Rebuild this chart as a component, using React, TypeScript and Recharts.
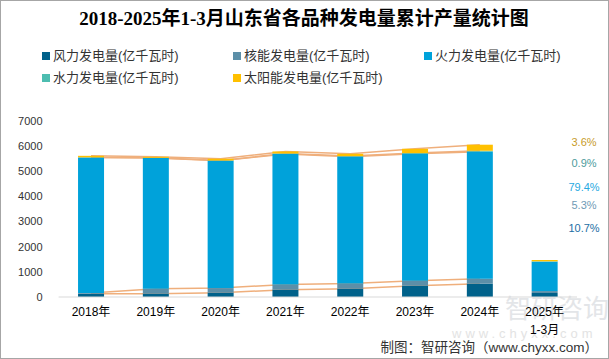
import { Bar, ComposedChart, Line, XAxis, YAxis } from "recharts";

const categories = ["2018年", "2019年", "2020年", "2021年", "2022年", "2023年", "2024年", "2025年1-3月"];
const wind = [130, 130, 170, 290, 330, 450, 530, 158];
const nuclear = [30, 200, 185, 210, 210, 200, 200, 78];
const thermal = [5385, 5198, 5060, 5189, 5041, 5045, 5047, 1170];
const hydro = [10, 10, 15, 20, 25, 30, 40, 13];
const solar = [60, 40, 70, 80, 90, 170, 240, 53];
const yTicks = [0, 1000, 2000, 3000, 4000, 5000, 6000, 7000];

const seriesNames = [
  "风力发电量(亿千瓦时)",
  "核能发电量(亿千瓦时)",
  "火力发电量(亿千瓦时)",
  "水力发电量(亿千瓦时)",
  "太阳能发电量(亿千瓦时)",
];
const seriesKeys = ["wind", "nuclear", "thermal", "hydro", "solar"];
const colors = ["#00618A", "#5C8FA8", "#00A2DA", "#4DBDB0", "#FFC000"];

// shares of the last period, shown at the right edge
const shareLabels = ["3.6%", "0.9%", "79.4%", "5.3%", "10.7%"];
const shareColors = ["#C89B2A", "#4D9C9C", "#27A9E1", "#6F9AB5", "#1C6EA4"];
const shareY = [142, 163, 187, 205, 228];

const SANS = '"Liberation Sans", "Noto Sans CJK SC", sans-serif';

// table for recharts, plus the cumulative tops used for the series lines
const data = categories.map((name, i) => {
  const c1 = wind[i];
  const c2 = c1 + nuclear[i];
  const c3 = c2 + thermal[i];
  const c4 = c3 + hydro[i];
  const c5 = c4 + solar[i];
  const last = i === categories.length - 1;
  return {
    name,
    wind: wind[i],
    nuclear: nuclear[i],
    thermal: thermal[i],
    hydro: hydro[i],
    solar: solar[i],
    s1: last ? null : c1,
    s2: last ? null : c2,
    s3: last ? null : c3,
    s4: last ? null : c4,
    s5: last ? null : c5,
  };
});

const CategoryTick = (props: any) => {
  const { x, y, payload } = props;
  const m = String(payload.value).match(/^(.*?年)(.*)$/);
  const lines = m ? [m[1], m[2]].filter(Boolean) : [payload.value];
  return (
    <text x={x} y={y} textAnchor="middle" fill="#000" fontSize={12} fontFamily={SANS}>
      {lines.map((l, i) => (
        <tspan key={i} x={x} dy={i === 0 ? "0.71em" : 18.5}>
          {l}
        </tspan>
      ))}
    </text>
  );
};

const LegendBox = () => {
  const colX = [42, 233, 424];
  return (
    <div style={{ position: "absolute", left: 0, top: 47, width: 609, height: 50 }}>
      {seriesNames.map((n, i) => (
        <div
          key={n}
          style={{
            position: "absolute",
            left: colX[i % 3],
            top: i < 3 ? 0 : 22,
            display: "flex",
            alignItems: "center",
            fontSize: 13,
            fontFamily: SANS,
            color: "#333",
            whiteSpace: "nowrap",
            lineHeight: "18px",
          }}
        >
          <span style={{ width: 8, height: 8, background: colors[i], marginRight: 3 }} />
          {n}
        </div>
      ))}
    </div>
  );
};

export default function App() {
  return (
    <div style={{ position: "absolute", left: 0, top: 0, width: 609, height: 359, background: "#fff" }}>
      <svg width={609} height={359} style={{ position: "absolute", left: 0, top: 0 }}>
        <text x={505} y={318} fontSize={26} fill="#E3E5E8" fontFamily={SANS}>
          智研咨询
        </text>
        <text x={452} y={338} fontSize={13} fill="#E3E3E3" letterSpacing={4} fontFamily={SANS}>
          www.chyxx.com
        </text>
      </svg>
      <div style={{ position: "absolute", left: 0, top: 0 }}>
        <ComposedChart
          width={609}
          height={359}
          data={data}
          barCategoryGap="30%"
          margin={{ top: 121, right: 32, left: 0, bottom: 32 }}
        >
          <XAxis
            dataKey="name"
            axisLine={{ stroke: "#D9D9D9" }}
            tickLine={false}
            tickMargin={4}
            height={30}
            interval={0}
            tick={<CategoryTick />}
          />
          <YAxis
            width={58.6}
            domain={[0, 7000]}
            ticks={yTicks}
            axisLine={false}
            tickLine={false}
            tickMargin={10}
            tick={{ fill: "#333", fontSize: 11, fontFamily: SANS }}
          />
          {["s1", "s2", "s3", "s4", "s5"].map((k) => (
            <Line
              key={k}
              dataKey={k}
              stroke="#EFAF7C"
              strokeWidth={1.5}
              dot={false}
              activeDot={false}
              connectNulls={false}
              legendType="none"
              zIndex={200}
              isAnimationActive={false}
            />
          ))}
          {seriesKeys.map((k, i) => (
            <Bar
              key={k}
              dataKey={k}
              name={seriesNames[i]}
              stackId="a"
              fill={colors[i]}
              zIndex={300}
              isAnimationActive={false}
            />
          ))}
        </ComposedChart>
      </div>
      <LegendBox />
      <svg
        width={609}
        height={359}
        style={{ position: "absolute", left: 0, top: 0, pointerEvents: "none" }}
      >
        <text
          x={304}
          y={25}
          textAnchor="middle"
          fontSize={19}
          fontWeight="bold"
          fill="#000"
          fontFamily='"Liberation Serif", "Noto Sans CJK SC", serif'
        >
          2018-2025年1-3月山东省各品种发电量累计产量统计图
        </text>
        {shareLabels.map((t, i) => (
          <text
            key={t}
            x={584}
            y={shareY[i] + 4}
            textAnchor="middle"
            fontSize={11}
            fill={shareColors[i]}
            fontFamily={SANS}
          >
            {t}
          </text>
        ))}
        <text x={598} y={352} textAnchor="end" fontSize={13.5} fill="#333" fontFamily={SANS}>
          制图：智研咨询（www.chyxx.com）
        </text>
      </svg>
      <div
        style={{
          position: "absolute",
          left: 0,
          top: 0,
          width: 609,
          height: 359,
          boxSizing: "border-box",
          border: "1px solid #A6A6A6",
          pointerEvents: "none",
        }}
      />
    </div>
  );
}
